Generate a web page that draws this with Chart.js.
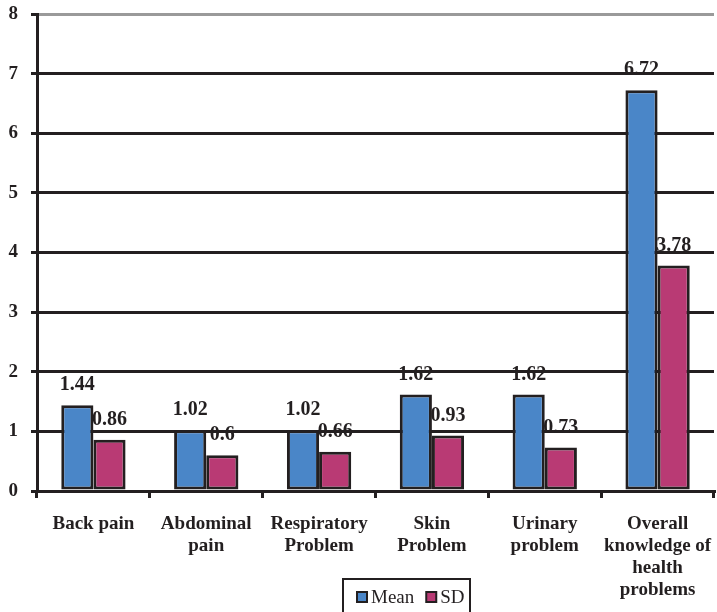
<!DOCTYPE html>
<html>
<head>
<meta charset="utf-8">
<title>Health problems knowledge – Mean and SD</title>
<script src="https://cdn.jsdelivr.net/npm/chart.js@4.4.1/dist/chart.umd.min.js"></script>
<style>
  html, body { margin: 0; padding: 0; background: #ffffff; }
  #wrap { width: 717px; height: 612px; position: relative; }
</style>
</head>
<body>
<div id="wrap"><canvas id="chart" width="717" height="612"></canvas></div>
<script>
// Categories (multi-line labels) and series values
const categories = [
  'Back pain',
  ['Abdominal', 'pain'],
  ['Respiratory', 'Problem'],
  ['Skin', 'Problem'],
  ['Urinary', 'problem'],
  ['Overall', 'knowledge of', 'health', 'problems']
];
const meanValues = [1.44, 1.02, 1.02, 1.62, 1.62, 6.72];
const sdValues = [0.86, 0.6, 0.66, 0.93, 0.73, 3.78];
const seriesNames = ['Mean', 'SD'];
const yTicks = [0, 1, 2, 3, 4, 5, 6, 7, 8];

const INK = '#231f20';
const BLUE = '#4a86c8';
const MAGENTA = '#b93a74';
const SERIF = '"Liberation Serif", "Times New Roman", serif';

// Value labels above each bar
const valueLabels = {
  id: 'valueLabels',
  afterDatasetsDraw(chart) {
    const ctx = chart.ctx;
    ctx.save();
    ctx.font = 'bold 20px ' + SERIF;
    ctx.fillStyle = INK;
    ctx.textAlign = 'center';
    ctx.textBaseline = 'middle';
    chart.data.datasets.forEach((ds, di) => {
      const meta = chart.getDatasetMeta(di);
      meta.data.forEach((bar, i) => {
        ctx.fillText(String(ds.data[i]), bar.x, bar.y - 20);
      });
    });
    ctx.restore();
  }
};

// Boxed legend below the plot
const boxedLegend = {
  id: 'boxedLegend',
  afterDraw(chart) {
    const ctx = chart.ctx;
    const left = 343, top = 579, width = 127, height = 40;
    ctx.save();
    ctx.strokeStyle = INK;
    ctx.lineWidth = 2;
    ctx.strokeRect(left, top, width, height);
    ctx.font = '19px ' + SERIF;
    ctx.textBaseline = 'middle';
    let x = left + 14;
    const cy = top + 18;
    chart.data.datasets.forEach((ds) => {
      ctx.fillStyle = ds.backgroundColor;
      ctx.fillRect(x, cy - 5, 10, 10);
      ctx.strokeStyle = INK;
      ctx.lineWidth = 2;
      ctx.strokeRect(x, cy - 5, 10, 10);
      ctx.fillStyle = INK;
      ctx.fillText(ds.label, x + 14, cy + 1);
      x += 14 + ctx.measureText(ds.label).width + 12;
    });
    ctx.restore();
  }
};

new Chart(document.getElementById('chart'), {
  type: 'bar',
  data: {
    labels: categories,
    datasets: [
      {
        label: seriesNames[0],
        data: meanValues,
        backgroundColor: BLUE,
        borderColor: INK,
        borderWidth: 3,
        borderSkipped: false,
        categoryPercentage: 0.57,
        barPercentage: 1.0
      },
      {
        label: seriesNames[1],
        data: sdValues,
        backgroundColor: MAGENTA,
        borderColor: INK,
        borderWidth: 3,
        borderSkipped: false,
        categoryPercentage: 0.57,
        barPercentage: 1.0
      }
    ]
  },
  options: {
    responsive: false,
    animation: false,
    layout: { padding: { top: 14, right: 3, left: 0, bottom: 0 } },
    plugins: {
      legend: { display: false },
      tooltip: { enabled: false }
    },
    scales: {
      x: {
        grid: {
          offset: true,
          drawOnChartArea: true,
          color: (c) => (c.index === categories.length ? '#9a9a9a' : 'rgba(0,0,0,0)'),
          lineWidth: 3,
          tickColor: INK,
          tickLength: 7,
          tickWidth: 3
        },
        border: { display: true, color: INK, width: 3 },
        ticks: {
          color: INK,
          font: { family: SERIF, size: 19, weight: 'bold', lineHeight: 1.16 },
          maxRotation: 0,
          autoSkip: false,
          padding: 15
        },
        afterFit(scale) {
          scale.height = 121;
          scale.paddingLeft = 0;
          scale.paddingRight = 0;
        }
      },
      y: {
        min: 0,
        max: 8,
        afterBuildTicks(scale) { scale.ticks = yTicks.map(v => ({ value: v })); },
        grid: {
          color: (c) => (c.tick && c.tick.value === 8 ? '#9a9a9a' : INK),
          lineWidth: 3,
          tickColor: INK,
          tickLength: 6,
          tickWidth: 3
        },
        border: { display: true, color: INK, width: 3 },
        ticks: {
          color: INK,
          font: { family: SERIF, size: 19, weight: 'bold' },
          padding: 13
        },
        afterFit(scale) {
          scale.width = 37;
          scale.paddingTop = 0;
          scale.paddingBottom = 0;
        }
      }
    }
  },
  plugins: [valueLabels, boxedLegend]
});
</script>
</body>
</html>
